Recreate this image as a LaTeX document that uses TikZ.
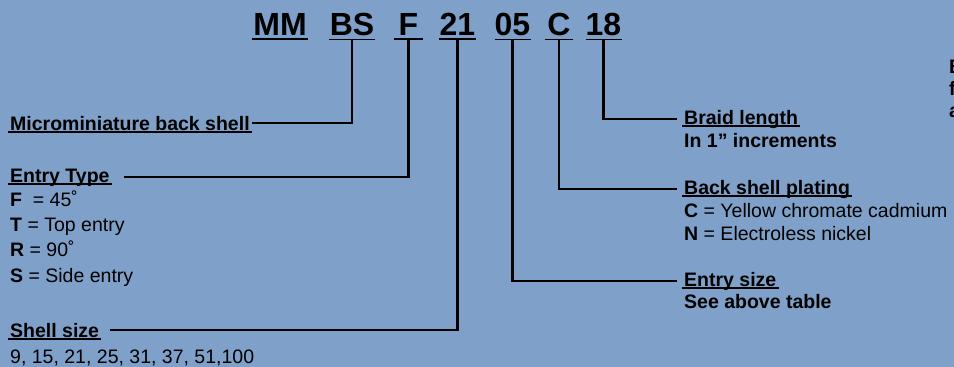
\documentclass[tikz,border=0pt]{standalone}
\usepackage{fontspec}
\setmainfont{Liberation Sans}
\usetikzlibrary{positioning}
\definecolor{panelblue}{RGB}{127,160,200}

\begin{document}
\begin{tikzpicture}[x=1pt,y=-1pt,line cap=butt,
  code/.style={anchor=base,inner xsep=0pt,inner ysep=4pt,font=\bfseries\fontsize{32}{36}\selectfont},
  head/.style={anchor=base west,inner xsep=2pt,inner ysep=0pt,font=\bfseries\fontsize{19.5}{23}\selectfont},
  body/.style={anchor=base west,inner sep=0pt,font=\fontsize{19.5}{23}\selectfont},
  note/.style={anchor=base west,inner sep=0pt,font=\bfseries\fontsize{19.5}{23}\selectfont},
  lead/.style={line width=2.2pt},
  uline/.style={line width=1.5pt}]
\fill[panelblue] (0,0) rectangle (954,367);
\useasboundingbox (0,0) rectangle (954,367);
\node[code,minimum width=56pt] (mm) at (280,35) {MM};
\node[code,minimum width=46pt] (bs) at (352,35) {BS};
\node[code,minimum width=29pt] (ft) at (408.5,35) {F};
\node[code,minimum width=37pt] (sz) at (457.5,35) {21};
\node[code,minimum width=33pt] (es) at (512.5,35) {05};
\node[code,minimum width=28pt] (pl) at (559,35) {C};
\node[code,minimum width=33pt] (bl) at (603.5,35) {18};
\foreach \n in {mm,bs,ft,sz,es,pl,bl}
  \draw[uline,line width=1.8pt] (\n.south west) -- (\n.south east);
\node[head] (mbs) at (8,130) {Microminiature back shell\hspace{3pt}};
\node[head] (ety) at (8,182) {Entry Type\hspace{1pt}};
\node[body] (ef) at (10,206) {\textbf{F}\ \ = 45˚};
\node[body] (et) at (10,231) {\textbf{T} = Top entry};
\node[body] (er) at (10,256) {\textbf{R} = 90˚};
\node[body] (es2) at (10,282) {\textbf{S} = Side entry};
\node[head] (shs) at (8,337) {Shell size\hspace{1pt}};
\node[body] (shn) at (10,363) {9, 15, 21, 25, 31, 37, 51,100};
\node[head] (brl) at (682,124) {Braid length\hspace{3pt}};
\node[note] (brn) at (684,147) {In 1” increments};
\node[head] (bsp) at (682,194) {Back shell plating\hspace{1pt}};
\node[body] (pc) at (684,217) {\textbf{C} = Yellow chromate cadmium};
\node[body] (pn) at (684,240) {\textbf{N} = Electroless nickel};
\node[head] (esz) at (682,286) {Entry size};
\node[note] (esn) at (684,308) {See above table};
\node[note] (cutb) at (949,73) {B};
\node[note] (cutf) at (949,95) {f};
\node[note] (cuta) at (949,117) {a};
\foreach \n in {mbs,ety,shs,brl,bsp,esz}
  \draw[uline] ([yshift=-2pt]\n.base west) -- ([yshift=-2pt]\n.base east);
\draw[lead] (bs.south) |- (mbs.east);
\draw[lead] (ft.south) |- ([xshift=12pt]ety.east);
\draw[lead] (sz.south) |- ([xshift=9pt]shs.east);
\draw[lead] (es.south) |- ([xshift=-5pt]esz.west);
\draw[lead] (pl.south) |- ([xshift=-5pt]bsp.west);
\draw[lead] (bl.south) |- ([xshift=-5pt]brl.west);
\end{tikzpicture}
\end{document}
